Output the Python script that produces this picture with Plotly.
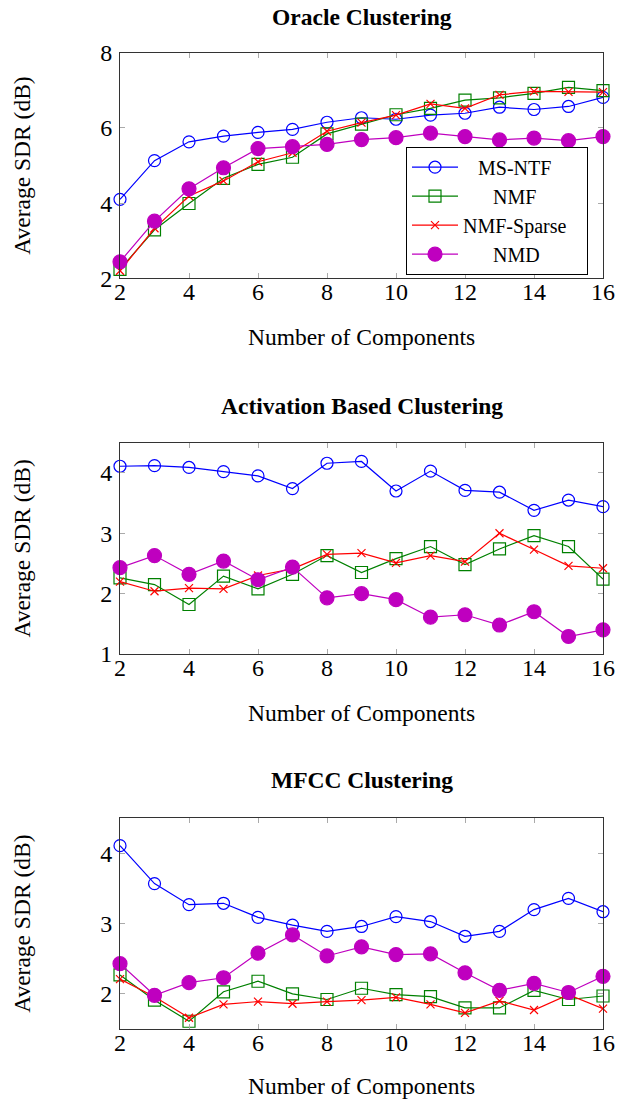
import plotly.graph_objects as go

components = [2, 3, 4, 5, 6, 7, 8, 9, 10, 11, 12, 13, 14, 15, 16]
x_ticks = [2, 4, 6, 8, 10, 12, 14, 16]

# Oracle Clustering
oracle_msntf = [4.10, 5.13, 5.63, 5.78, 5.88, 5.96, 6.15, 6.27, 6.23, 6.34, 6.39, 6.55, 6.49, 6.57, 6.81]
oracle_nmf = [2.24, 3.29, 3.99, 4.66, 5.03, 5.22, 5.84, 6.10, 6.35, 6.52, 6.74, 6.80, 6.92, 7.08, 6.99]
oracle_sparse = [2.20, 3.33, 4.19, 4.59, 5.10, 5.34, 5.91, 6.14, 6.34, 6.64, 6.52, 6.88, 6.97, 6.96, 6.95]
oracle_nmd = [2.44, 3.52, 4.38, 4.94, 5.45, 5.50, 5.56, 5.69, 5.74, 5.86, 5.77, 5.68, 5.73, 5.66, 5.77]

# Activation Based Clustering
act_msntf = [4.11, 4.12, 4.09, 4.02, 3.95, 3.74, 4.16, 4.19, 3.70, 4.03, 3.71, 3.68, 3.38, 3.55, 3.44]
act_nmf = [2.26, 2.15, 1.82, 2.29, 2.08, 2.32, 2.63, 2.35, 2.58, 2.78, 2.48, 2.74, 2.96, 2.78, 2.24]
act_sparse = [2.20, 2.04, 2.09, 2.08, 2.30, 2.41, 2.65, 2.67, 2.51, 2.63, 2.53, 3.00, 2.73, 2.46, 2.42]
act_nmd = [2.43, 2.63, 2.32, 2.54, 2.23, 2.44, 1.93, 2.00, 1.90, 1.61, 1.65, 1.48, 1.70, 1.29, 1.40]

# MFCC Clustering
mfcc_msntf = [4.11, 3.57, 3.27, 3.29, 3.09, 2.98, 2.89, 2.96, 3.10, 3.03, 2.82, 2.89, 3.20, 3.36, 3.17]
mfcc_nmf = [2.27, 1.91, 1.61, 2.03, 2.18, 2.00, 1.92, 2.08, 1.99, 1.96, 1.80, 1.80, 2.05, 1.92, 1.97]
mfcc_sparse = [2.21, 1.96, 1.66, 1.85, 1.89, 1.86, 1.89, 1.91, 1.95, 1.85, 1.73, 1.90, 1.77, 1.99, 1.79]
mfcc_nmd = [2.43, 1.98, 2.16, 2.23, 2.58, 2.84, 2.54, 2.67, 2.56, 2.57, 2.30, 2.05, 2.15, 2.02, 2.25]

titles = ["Oracle Clustering", "Activation Based Clustering", "MFCC Clustering"]
series_names = ["MS-NTF", "NMF", "NMF-Sparse", "NMD"]
panels = [
    [oracle_msntf, oracle_nmf, oracle_sparse, oracle_nmd],
    [act_msntf, act_nmf, act_sparse, act_nmd],
    [mfcc_msntf, mfcc_nmf, mfcc_sparse, mfcc_nmd],
]
y_ranges = [[2, 8], [1, 4.5], [1.5, 4.5]]
y_dtick = [2, 1, 1]

colors = ["#0000ff", "#008000", "#ff0000", "#bf00bf"]
symbols = ["circle-open", "square-open", "x-thin-open", "circle"]
msizes = [12, 12, 8, 14]
# legend labels are centred in the reference legend box
legend_pad = [3, 6, 0, 6]
legend_tail = [0, 0, 3, 0]

W = 628
H = 1099
plot_px = [(52.7, 278.3), (442.7, 654.0), (818.3, 1029.0)]
title_px = [17, 406, 780]
domains = [[1 - b / H, 1 - t / H] for (t, b) in plot_px]

FONT = "Liberation Serif, Times New Roman, serif"
NB = "\u00a0"

fig = go.Figure()
for p, data in enumerate(panels):
    xa = "x" if p == 0 else f"x{p+1}"
    ya = "y" if p == 0 else f"y{p+1}"
    for s, vals in enumerate(data):
        label = NB * legend_pad[s] + series_names[s] + NB * legend_tail[s]
        fig.add_trace(go.Scatter(
            x=components, y=vals, mode="lines+markers", name=label,
            xaxis=xa, yaxis=ya, showlegend=(p == 0),
            line=dict(color=colors[s], width=1.2),
            marker=dict(symbol=symbols[s], size=msizes[s], color=colors[s],
                        line=dict(color=colors[s], width=1.2)),
            cliponaxis=False,
        ))

axis_common = dict(
    showline=True, linecolor="#333333", linewidth=1, mirror="ticks",
    ticks="inside", ticklen=5, tickcolor="#aaaaaa", tickwidth=1,
    showgrid=False, zeroline=False, automargin=False,
    tickfont=dict(family=FONT, size=24, color="#000000"),
)

L = 120
R = 628 - 603
PW = W - L - R

layout = dict(
    width=W, height=H,
    margin=dict(l=L, r=R, t=0, b=0),
    plot_bgcolor="#ffffff", paper_bgcolor="#ffffff",
    font=dict(family=FONT, color="#000000"),
    legend=dict(
        x=(406 - 120) / PW, y=1 - 146.7 / H, xanchor="left", yanchor="top",
        bgcolor="#ffffff", bordercolor="#000000", borderwidth=1,
        font=dict(family=FONT, size=20, color="#000000"),
        itemwidth=46,
    ),
    annotations=[],
)

for p in range(3):
    xk = "xaxis" if p == 0 else f"xaxis{p+1}"
    yk = "yaxis" if p == 0 else f"yaxis{p+1}"
    ya = "y" if p == 0 else f"y{p+1}"
    xa = "x" if p == 0 else f"x{p+1}"
    layout[xk] = dict(axis_common, range=[2, 16], tickvals=x_ticks, anchor=ya,
                      domain=[0, 1], ticklabelstandoff=-8,
                      title=dict(text="Number of Components", standoff=24,
                                 font=dict(family=FONT, size=23.5)))
    layout[yk] = dict(axis_common, range=y_ranges[p], dtick=y_dtick[p], anchor=xa,
                      domain=domains[p], ticklabelstandoff=2,
                      title=dict(text="Average SDR (dB)", standoff=62,
                                 font=dict(family=FONT, size=23.5)))
    layout["annotations"].append(dict(
        text=f"<b>{titles[p]}</b>", xref="paper", yref="paper",
        x=0.5, y=1 - title_px[p] / H, xanchor="center", yanchor="middle",
        showarrow=False, font=dict(family=FONT, size=23.5, color="#000000"),
    ))

fig.update_layout(**layout)
fig.write_html("out.html", config={"displayModeBar": False},
               post_script="document.body.style.margin='0px';")
